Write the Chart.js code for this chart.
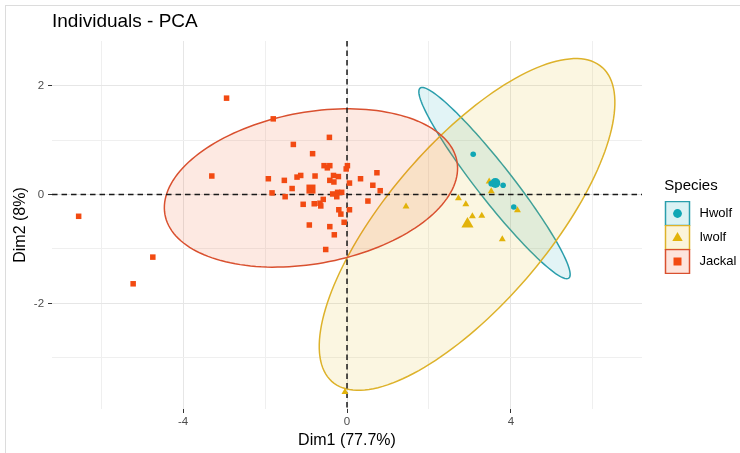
<!DOCTYPE html>
<html>
<head>
<meta charset="utf-8">
<script src="https://cdn.jsdelivr.net/npm/chart.js@4.4.1/dist/chart.umd.min.js"></script>
<style>
  html, body { margin: 0; padding: 0; background: #fff; }
  #wrap { position: relative; width: 740px; height: 453px; }
  #frame { position: absolute; left: 5px; top: 5px; right: 0; bottom: 0; border-left: 1px solid #dcdcdc; border-top: 1px solid #dcdcdc; pointer-events: none; }
</style>
</head>
<body>
<div id="wrap">
  <canvas id="pcaChart" width="740" height="453"></canvas>
  <div id="frame"></div>
</div>
<script>
// groups and colours
const species = ['Hwolf', 'Iwolf', 'Jackal'];
const speciesColors = ['#0FA7B5', '#E2B30A', '#F24A12'];
const ellipseLineColors = ['#2A9EAC', '#DDB22A', '#D9502F'];
const speciesShapes = ['circle', 'triangle', 'rect'];

// individuals (Dim1, Dim2)
const hwolfDim1 = [3.08, 3.52, 3.81, 4.07];
const hwolfDim2 = [0.74, 0.20, 0.17, -0.23];

const iwolfDim1 = [1.44, 2.72, 2.90, 3.06, 3.29, 3.47, 3.52, 4.16, 3.79, -0.05];
const iwolfDim2 = [-0.22, -0.07, -0.18, -0.40, -0.39, 0.24, 0.06, -0.29, -0.82, -3.63];

const jackalDim1 = [-2.94, -1.80, -0.43, -1.31, -0.84, -0.56, -0.42, -0.48, 0.01, -0.02,
                    -3.30, -1.92, -1.53, -1.22, -1.13, -0.78, -0.33, -0.21, -0.42, -0.32,
                    0.33, 0.73, 0.63, 0.81, -1.34, -1.83, -1.51, -0.35, -0.23, -0.13,
                    -0.25, 0.06, 0.51, -1.07, -0.80, -0.66, -0.58, -0.64, -0.20, -0.15,
                    0.06, -0.07, -0.92, -0.42, -0.31, -0.52, -4.74, -6.55, -5.22];
const jackalDim2 = [1.77, 1.39, 1.05, 0.92, 0.75, 0.53, 0.53, 0.49, 0.53, 0.47,
                    0.34, 0.29, 0.26, 0.32, 0.35, 0.34, 0.35, 0.33, 0.26, 0.23,
                    0.29, 0.40, 0.17, 0.07, 0.11, 0.03, -0.04, 0.01, 0.04, 0.04,
                    -0.04, 0.21, -0.12, -0.18, -0.17, -0.16, -0.09, -0.21, -0.28, -0.36,
                    -0.28, -0.51, -0.56, -0.59, -0.74, -1.01, -1.15, -0.40, -1.64];

// group means (Hwolf, Iwolf, Jackal)
const centroidDim1 = [3.62, 2.94, -0.88];
const centroidDim2 = [0.21, -0.54, 0.10];

// concentration ellipses: centre, semi axes, rotation (degrees)
const ellipseCx = [3.60, 2.93, -0.88];
const ellipseCy = [0.21, -0.55, 0.12];
const ellipseA = [2.52, 4.41, 3.60];
const ellipseB = [0.38, 1.69, 1.40];
const ellipseAngle = [-43.5, 38.5, 6.8];

// axes
const xTicks = [-6, -4, -2, 0, 2, 4, 6];
const xLabels = [-4, 0, 4];
const yTicks = [-3, -2, -1, 0, 1, 2];
const yLabels = [-2, 0, 2];

function toPoints(xs, ys) {
    return xs.map((x, i) => ({ x: x, y: ys[i] }));
}

function withAlpha(hex, a) {
    const n = parseInt(hex.slice(1), 16);
    return `rgba(${(n >> 16) & 255}, ${(n >> 8) & 255}, ${n & 255}, ${a})`;
}

// legend key: shaded box with border and the group symbol
function legendKey(k) {
    const c = document.createElement('canvas');
    c.width = 48;
    c.height = 25;
    const g = c.getContext('2d');
    g.fillStyle = withAlpha(speciesColors[k], 0.15);
    g.fillRect(16.5, 0.5, 24, 24);
    g.strokeStyle = ellipseLineColors[k];
    g.lineWidth = 1.5;
    g.strokeRect(16.5, 0.5, 24, 24);
    g.fillStyle = speciesColors[k];
    const cx = 28.5, cy = 12.5;
    g.beginPath();
    if (speciesShapes[k] === 'circle') {
        g.arc(cx, cy, 4.4, 0, Math.PI * 2);
    } else if (speciesShapes[k] === 'triangle') {
        g.moveTo(cx, cy - 5.6);
        g.lineTo(cx + 5.2, cy + 3.4);
        g.lineTo(cx - 5.2, cy + 3.4);
        g.closePath();
    } else {
        g.rect(cx - 4, cy - 4, 8, 8);
    }
    g.fill();
    return c;
}

// ellipses and dashed origin lines, drawn under the points
const pcaBackground = {
    id: 'pcaBackground',
    beforeDatasetsDraw(chart) {
        const { ctx, chartArea, scales } = chart;
        const xs = scales.x, ys = scales.y;
        ctx.save();
        ctx.beginPath();
        ctx.rect(chartArea.left, chartArea.top, chartArea.width, chartArea.height);
        ctx.clip();

        species.forEach((name, k) => {
            const rot = ellipseAngle[k] * Math.PI / 180;
            ctx.beginPath();
            for (let i = 0; i <= 160; i++) {
                const t = i / 160 * Math.PI * 2;
                const u = ellipseA[k] * Math.cos(t);
                const v = ellipseB[k] * Math.sin(t);
                const px = xs.getPixelForValue(ellipseCx[k] + u * Math.cos(rot) - v * Math.sin(rot));
                const py = ys.getPixelForValue(ellipseCy[k] + u * Math.sin(rot) + v * Math.cos(rot));
                if (i === 0) ctx.moveTo(px, py); else ctx.lineTo(px, py);
            }
            ctx.closePath();
            ctx.fillStyle = withAlpha(speciesColors[k], 0.12);
            ctx.fill();
            ctx.strokeStyle = ellipseLineColors[k];
            ctx.lineWidth = 1.5;
            ctx.stroke();
        });

        ctx.setLineDash([5.5, 4]);
        ctx.strokeStyle = '#1a1a1a';
        ctx.lineWidth = 1.5;
        const x0 = xs.getPixelForValue(0);
        const y0 = ys.getPixelForValue(0);
        ctx.beginPath();
        ctx.moveTo(x0, chartArea.top);
        ctx.lineTo(x0, chartArea.bottom);
        ctx.moveTo(chartArea.left, y0);
        ctx.lineTo(chartArea.right, y0);
        ctx.stroke();
        ctx.restore();
    }
};

Chart.defaults.font.family = "'Liberation Sans', Arial, Helvetica, sans-serif";

const ctx = document.getElementById('pcaChart').getContext('2d');
new Chart(ctx, {
    type: 'scatter',
    data: {
        datasets: [
            {
                label: 'centroids',
                data: toPoints(centroidDim1, centroidDim2),
                pointStyle: speciesShapes,
                pointRadius: [5, 7, 6.4],
                backgroundColor: speciesColors,
                borderWidth: 0
            },
            {
                label: 'Hwolf',
                data: toPoints(hwolfDim1, hwolfDim2),
                pointStyle: 'circle',
                pointRadius: 2.8,
                backgroundColor: speciesColors[0],
                borderWidth: 0
            },
            {
                label: 'Iwolf',
                data: toPoints(iwolfDim1, iwolfDim2),
                pointStyle: 'triangle',
                pointRadius: 4,
                backgroundColor: speciesColors[1],
                borderWidth: 0
            },
            {
                label: 'Jackal',
                data: toPoints(jackalDim1, jackalDim2),
                pointStyle: 'rect',
                pointRadius: 3.9,
                backgroundColor: speciesColors[2],
                borderWidth: 0
            }
        ]
    },
    options: {
        responsive: false,
        animation: false,
        events: [],
        layout: { padding: { left: 6, right: 0, top: 6, bottom: 2 } },
        plugins: {
            tooltip: { enabled: false },
            title: {
                display: true,
                text: 'Individuals - PCA',
                align: 'start',
                fullSize: false,
                color: '#000',
                font: { size: 19, weight: 'normal' },
                padding: { top: 4.8, bottom: 7.4 }
            },
            legend: {
                position: 'right',
                align: 'center',
                maxWidth: 98,
                title: {
                    display: true,
                    text: 'Species',
                    position: 'center',
                    color: '#000',
                    font: { size: 15 },
                    padding: { top: 0, bottom: 0 }
                },
                labels: {
                    usePointStyle: true,
                    pointStyleWidth: 40,
                    padding: 11,
                    color: '#1a1a1a',
                    font: { size: 13 },
                    generateLabels: () => species.map((name, k) => ({
                        text: name,
                        pointStyle: legendKey(k),
                        fillStyle: speciesColors[k],
                        strokeStyle: speciesColors[k],
                        lineWidth: 0,
                        hidden: false,
                        datasetIndex: k + 1
                    }))
                }
            }
        },
        scales: {
            x: {
                type: 'linear',
                min: -7.2,
                max: 7.2,
                afterBuildTicks: scale => { scale.ticks = xTicks.map(v => ({ value: v })); },
                ticks: {
                    color: '#4d4d4d',
                    font: { size: 11.5, lineHeight: 1 },
                    padding: 3,
                    maxRotation: 0,
                    callback: v => xLabels.includes(v) ? String(v) : ''
                },
                grid: {
                    color: c => xLabels.includes(c.tick.value) ? '#e6e6e6' : '#efefef',
                    tickColor: c => xLabels.includes(c.tick.value) ? '#333' : 'rgba(0,0,0,0)',
                    tickLength: 4
                },
                border: { display: false },
                title: {
                    display: true,
                    text: 'Dim1 (77.7%)',
                    color: '#000',
                    font: { size: 16 },
                    padding: { top: 0, bottom: 1.3 }
                }
            },
            y: {
                type: 'linear',
                min: -3.94,
                max: 2.82,
                afterBuildTicks: scale => { scale.ticks = yTicks.map(v => ({ value: v })); },
                ticks: {
                    color: '#4d4d4d',
                    font: { size: 11.5, lineHeight: 1 },
                    padding: 4,
                    callback: v => yLabels.includes(v) ? String(v) : ''
                },
                grid: {
                    color: c => yLabels.includes(c.tick.value) ? '#e6e6e6' : '#efefef',
                    tickColor: c => yLabels.includes(c.tick.value) ? '#333' : 'rgba(0,0,0,0)',
                    tickLength: 4
                },
                border: { display: false },
                title: {
                    display: true,
                    text: 'Dim2 (8%)',
                    color: '#000',
                    font: { size: 16 },
                    padding: { top: 4.6, bottom: 0 }
                }
            }
        }
    },
    plugins: [pcaBackground]
});
</script>
</body>
</html>
